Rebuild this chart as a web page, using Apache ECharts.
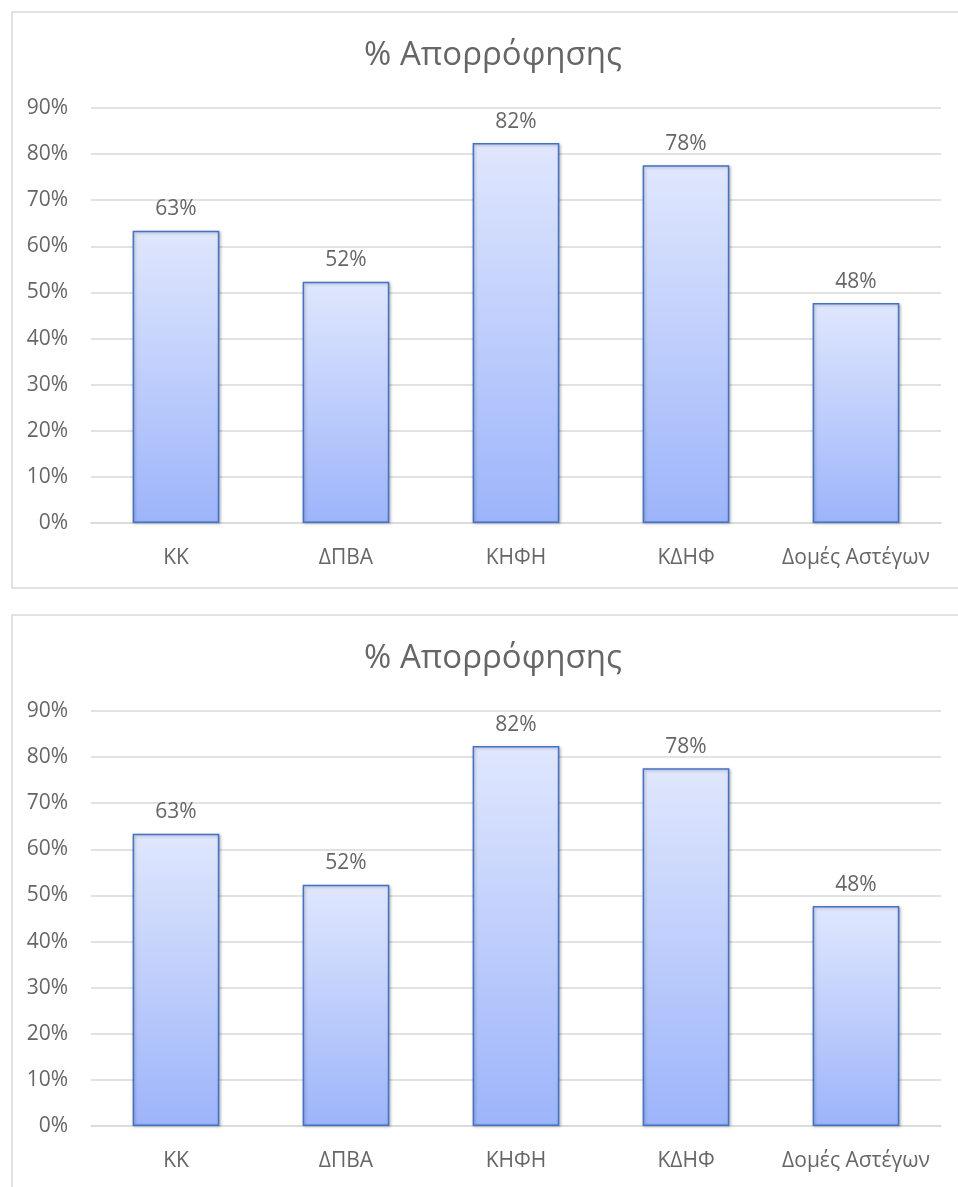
<!DOCTYPE html>
<html>
<head>
<meta charset="utf-8">
<script src="https://cdn.jsdelivr.net/npm/echarts@6/dist/echarts.min.js"></script>
<style>
html,body{margin:0;padding:0;background:#fff;overflow:hidden;}
#c{width:958px;height:1187px;}
</style>
</head>
<body>
<div id="c"></div>
<script>
const titleText = '% Απορρόφησης';
const categories = ['ΚΚ', 'ΔΠΒΑ', 'ΚΗΦΗ', 'ΚΔΗΦ', 'Δομές Αστέγων'];
const values = [63.4, 52.3, 82.4, 77.6, 47.7];
const yMin = 0, yMax = 90, yStep = 10;

const FONT = '"Open Sans", sans-serif';
const GRAY = '#666666';
const LINE = '#d9d9d9';

const chart = echarts.init(document.getElementById('c'), null, {renderer: 'canvas'});

const panels = [{top: 9, gridTop: 108}, {top: 612, gridTop: 711}];
const gridH = 415;

const option = {
  animation: false,
  backgroundColor: '#fff',
  textStyle: {fontFamily: FONT},
  graphic: panels.map(p => ({
    type: 'rect', left: 9.5, top: p.top + 0.5,
    shape: {x: 0, y: 0, width: 970, height: 576},
    style: {fill: 'none', stroke: LINE, lineWidth: 1.5}, silent: true
  })),
  title: panels.map(p => ({
    text: titleText, left: 488, top: p.top + 25, textAlign: 'center',
    textStyle: {fontFamily: FONT, fontSize: 33, fontWeight: 'normal', color: GRAY}
  })),
  grid: panels.map(p => ({left: 91, right: 17, top: p.gridTop, height: gridH, containLabel: false})),
  xAxis: panels.map((p, i) => ({
    type: 'category', gridIndex: i, data: categories,
    axisLine: {show: true, lineStyle: {color: LINE, width: 1.5}},
    axisTick: {show: false},
    axisLabel: {color: GRAY, fontSize: 21, fontFamily: FONT, margin: 25, interval: 0}
  })),
  yAxis: panels.map((p, i) => ({
    type: 'value', gridIndex: i, min: yMin, max: yMax, interval: yStep,
    axisLine: {show: false}, axisTick: {show: false},
    splitLine: {lineStyle: {color: LINE, width: 1.5}},
    axisLabel: {color: GRAY, fontSize: 21, fontFamily: FONT, margin: 23, formatter: '{value}%'}
  })),
  series: panels.map((p, i) => ({
    type: 'bar', xAxisIndex: i, yAxisIndex: i, data: values, barWidth: '51%',
    itemStyle: {
      color: new echarts.graphic.LinearGradient(0, 0, 0, 1, [
        {offset: 0, color: '#e0e7fd'},
        {offset: 1, color: '#9cb4fa'}
      ]),
      borderColor: '#4472c4', borderWidth: 1.5,
      shadowColor: 'rgba(0,0,0,0.25)', shadowBlur: 3, shadowOffsetX: 1, shadowOffsetY: 1
    },
    label: {
      show: true, position: 'top', distance: 11, color: GRAY, fontSize: 21, fontFamily: FONT,
      formatter: d => Math.round(d.value) + '%'
    }
  }))
};
chart.setOption(option);
</script>
</body>
</html>
